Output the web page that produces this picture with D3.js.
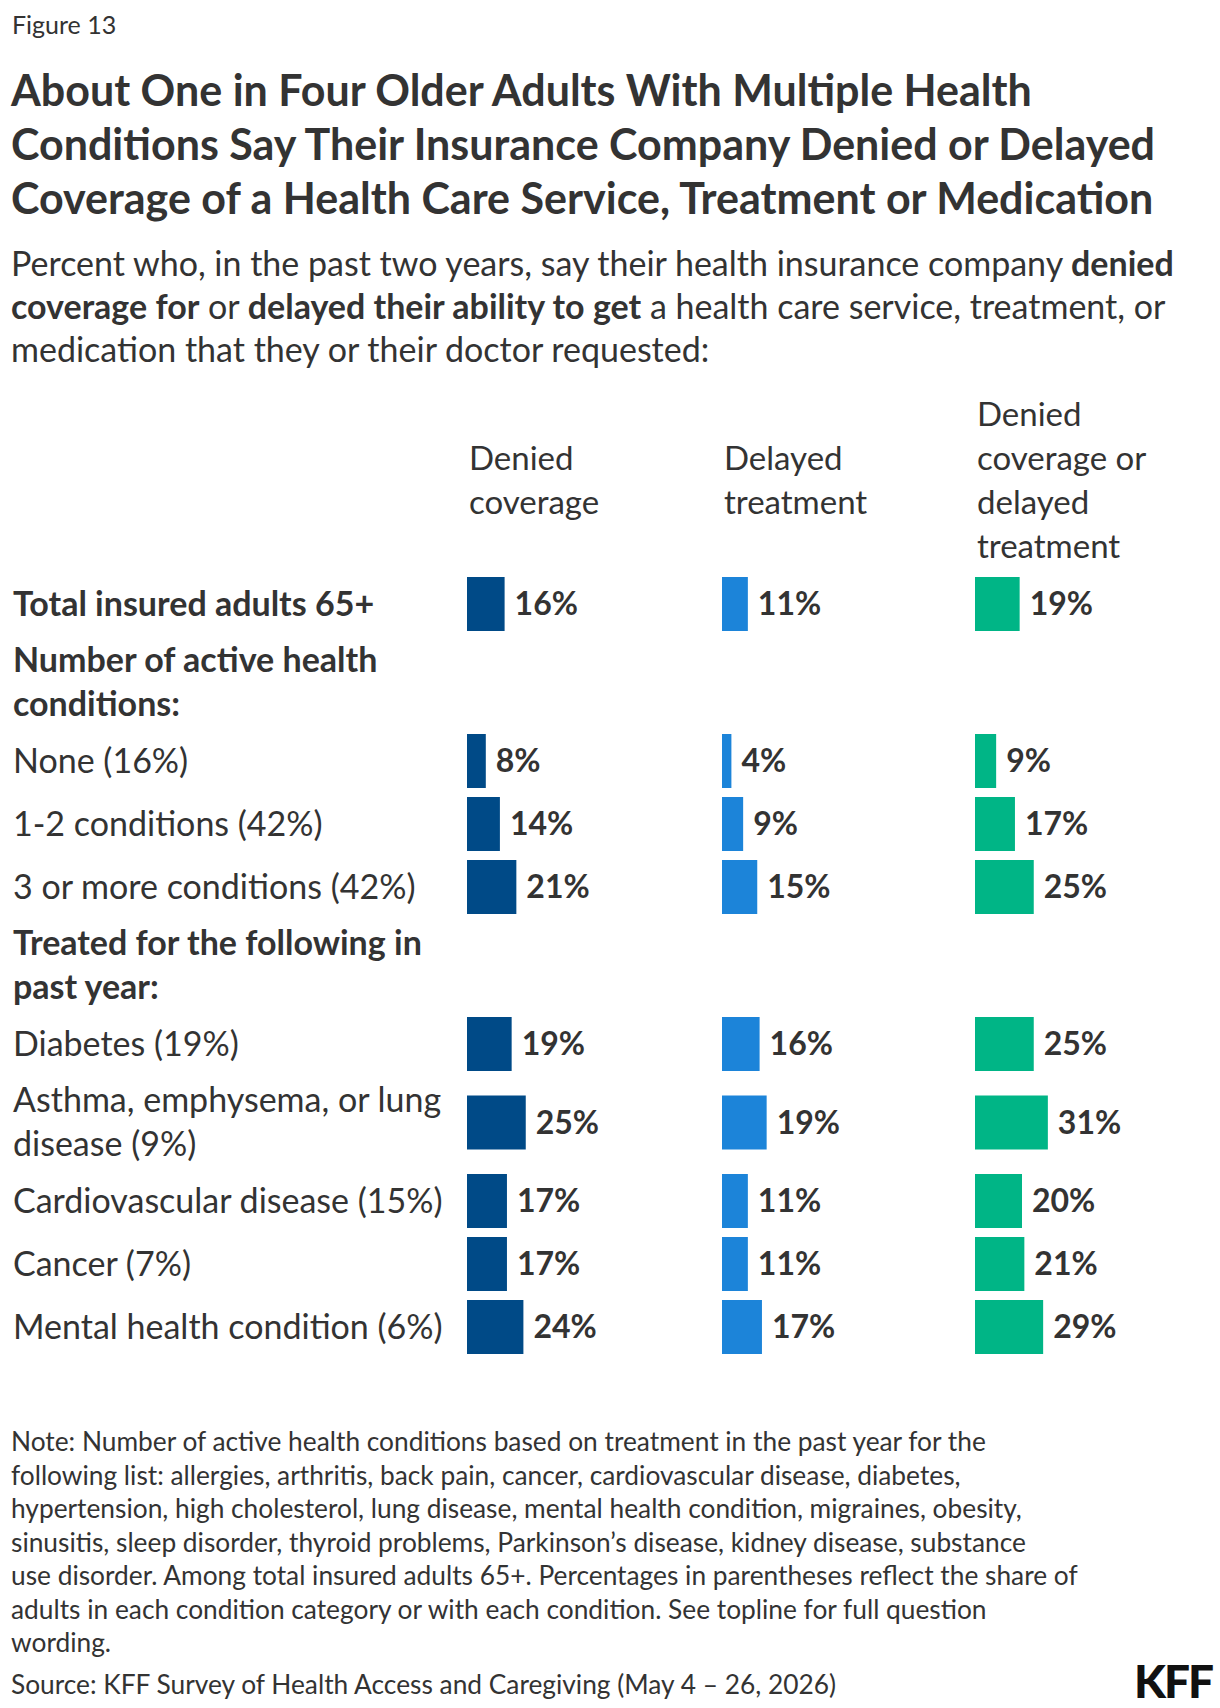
<!DOCTYPE html>
<html><head><meta charset="utf-8">
<script src="https://cdn.jsdelivr.net/npm/d3@7"></script>
<style>body{margin:0;background:#fff;} svg{display:block;font-family:"Source Sans Pro","Lato","Noto Sans",sans-serif;}</style>
</head><body><div id="c"></div>
<script>
const rowLabels = [
  ["Total insured adults 65+"],
  ["Number of active health", "conditions:"],
  ["None (16%)"],
  ["1-2 conditions (42%)"],
  ["3 or more conditions (42%)"],
  ["Treated for the following in", "past year:"],
  ["Diabetes (19%)"],
  ["Asthma, emphysema, or lung", "disease (9%)"],
  ["Cardiovascular disease (15%)"],
  ["Cancer (7%)"],
  ["Mental health condition (6%)"]
];
const rowBold = [true, true, false, false, false, true, false, false, false, false, false];
const seriesNames = [["Denied","coverage"],["Delayed","treatment"],["Denied","coverage or","delayed","treatment"]];
const denied  = [16, null, 8, 14, 21, null, 19, 25, 17, 17, 24];
const delayed = [11, null, 4, 9, 15, null, 16, 19, 11, 11, 17];
const either  = [19, null, 9, 17, 25, null, 25, 31, 20, 21, 29];
const colors = ["#004a87", "#1c84d9", "#00b586"];
const noteLines = [
 "Note: Number of active health conditions based on treatment in the past year for the",
 "following list: allergies, arthritis, back pain, cancer, cardiovascular disease, diabetes,",
 "hypertension, high cholesterol, lung disease, mental health condition, migraines, obesity,",
 "sinusitis, sleep disorder, thyroid problems, Parkinson\u2019s disease, kidney disease, substance",
 "use disorder. Among total insured adults 65+. Percentages in parentheses reflect the share of",
 "adults in each condition category or with each condition. See topline for full question",
 "wording."
];

const W=1220,H=1708;
const svg=d3.select("#c").append("svg").attr("width",W).attr("height",H);
const ink="#333";
svg.append("text").attr("x",12).attr("y",34).attr("font-size",25).attr("fill",ink).text("Figure 13");
["About One in Four Older Adults With Multiple Health","Conditions Say Their Insurance Company Denied or Delayed","Coverage of a Health Care Service, Treatment or Medication"]
 .forEach((t,i)=>svg.append("text").attr("x",11).attr("y",106+i*54).attr("font-size",43).attr("font-weight",700).attr("fill",ink).text(t));
const sub=[[["Percent who, in the past two years, say their health insurance company ",400],["denied",700]],
 [["coverage for",700],[" or ",400],["delayed their ability to get",700],[" a health care service, treatment, or",400]],
 [["medication that they or their doctor requested:",400]]];
sub.forEach((ln,i)=>{const t=svg.append("text").attr("x",11).attr("y",276+i*43).attr("font-size",34).attr("fill",ink);
 ln.forEach(([s,w])=>t.append("tspan").attr("font-weight",w).text(s));});

const colX=[467,722,975];
const x=d3.scaleLinear().domain([0,100]).range([0,235]);
let y0=572.5; const centers=[];
rowLabels.forEach(l=>{const h=l.length>1?94:63; centers.push(y0+h/2); y0+=h;});
const g=svg.append("g");
rowLabels.forEach((l,i)=>{
  const c=centers[i];
  l.forEach((s,j)=>g.append("text").attr("x",13).attr("y",c+(j-(l.length-1)/2)*44).attr("dy","0.35em")
    .attr("font-size",34).attr("font-weight",rowBold[i]?700:400).attr("fill",ink).text(s));
});
seriesNames.forEach((n,k)=>{
  n.forEach((s,j)=>svg.append("text").attr("x",colX[k]+2).attr("y",492+(j-(n.length-1)/2)*44).attr("font-size",33).attr("fill",ink).text(s));
});
[denied,delayed,either].forEach((vals,k)=>{
  vals.forEach((v,i)=>{
    if(v==null) return;
    const c=centers[i];
    svg.append("rect").attr("x",colX[k]).attr("y",c-27).attr("width",x(v)).attr("height",54).attr("fill",colors[k]);
    svg.append("text").attr("x",colX[k]+x(v)+10).attr("y",c).attr("dy","0.35em").attr("font-size",32).attr("font-weight",700).attr("fill",ink).text(v+"%");
  });
});
noteLines.forEach((t,i)=>svg.append("text").attr("x",11).attr("y",1451+i*33.5).attr("font-size",26.3).attr("fill",ink).text(t));
svg.append("text").attr("x",11).attr("y",1694).attr("font-size",26.3).attr("fill",ink).text("Source: KFF Survey of Health Access and Caregiving (May 4 \u2013 26, 2026)");
svg.append("text").attr("x",1212).attr("y",1698).attr("text-anchor","end").attr("font-size",46).attr("font-weight",900).attr("fill","#111").attr("letter-spacing",-2).text("KFF");
</script></body></html>
